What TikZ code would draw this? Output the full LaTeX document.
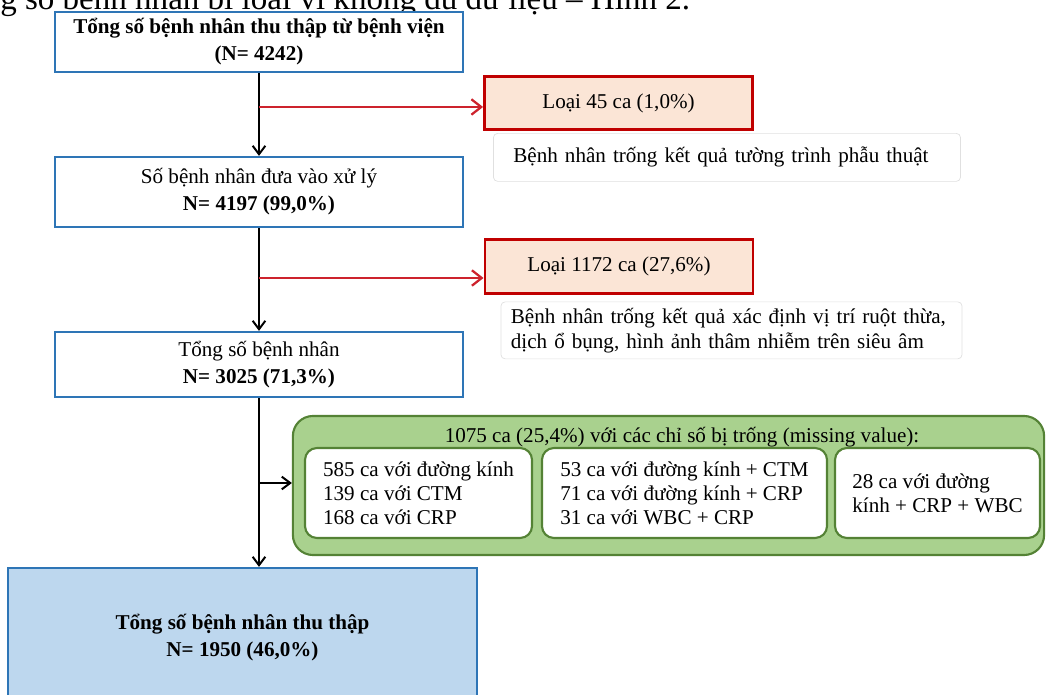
\documentclass[tikz,border=0pt]{standalone}
\usepackage{fontspec}
\setmainfont{Liberation Serif}
\usetikzlibrary{positioning,arrows.meta}
\definecolor{BoxBlue}{RGB}{46,117,182}
\definecolor{FinalBlue}{RGB}{189,215,238}
\definecolor{LossRed}{RGB}{192,0,0}
\definecolor{LossFill}{RGB}{251,229,214}
\definecolor{ArrowRed}{RGB}{205,35,45}
\definecolor{MissGreen}{RGB}{169,209,142}
\definecolor{MissEdge}{RGB}{84,130,53}

\begin{document}
\begin{tikzpicture}[x=0.025cm,y=-0.025cm,
  every node/.style={font=\fontsize{15}{19.2}\selectfont},
  stagebox/.style={draw=BoxBlue,line width=1.6pt,fill=white,align=center,minimum width=10.2cm,inner sep=0pt},
  lossbox/.style={draw=LossRed,line width=2pt,fill=LossFill,minimum width=6.7cm,minimum height=1.33cm,inner sep=0pt},
  notebox/.style={draw=black!12,line width=0.5pt,rounded corners=3pt,fill=white,align=left,inner ysep=0pt,font=\fontsize{15}{17.8}\selectfont},
  subbox/.style={draw=MissEdge,line width=1.5pt,fill=white,rounded corners=0.3cm,align=left,minimum height=2.25cm,inner sep=0pt,font=\fontsize{15}{17}\selectfont},
  flow/.style={line width=1.4pt,-{Straight Barb[length=6pt,width=9pt]}},
  drop/.style={flow,draw=ArrowRed,line width=1.6pt,-{Straight Barb[length=7pt,width=11pt]}}]
\useasboundingbox (0,0) rectangle (1046,695);
\node[anchor=base west,inner sep=0pt,font=\fontsize{23.5}{28}\selectfont] (caption) at (0,10) {g số bệnh nhân bị loại vì không đủ dữ liệu – Hình 2.};
% main flow
\node[stagebox,minimum height=1.5cm,font=\fontsize{15}{19.2}\selectfont\bfseries] (collected) at (259,42) {Tổng số bệnh nhân thu thập từ bệnh viện\\(N= 4242)};
\node[stagebox,minimum height=1.75cm] (processed) at (259,192) {Số bệnh nhân đưa vào xử lý\\\textbf{N= 4197 (99,0\%)}};
\node[stagebox,minimum height=1.625cm] (eligible) at (259,364.5) {Tổng số bệnh nhân\\\textbf{N= 3025 (71,3\%)}};
\node[stagebox,fill=FinalBlue,minimum width=11.725cm,minimum height=3.5cm,font=\fontsize{15}{19.2}\selectfont\bfseries] (final) at (242.5,638) {Tổng số bệnh nhân thu thập\\N= 1950 (46,0\%)};
% excluded cases
\node[lossbox] (loss1) at (618.5,103) {Loại 45 ca (1,0\%)};
\node[lossbox] (loss2) at (619,266.5) {Loại 1172 ca (27,6\%)};
\node[notebox,below=0.05cm of loss1.south west,anchor=north west,xshift=0.25cm,text width=10.675cm,inner xsep=0.5cm,minimum height=1.2cm] (note1) {Bệnh nhân trống kết quả tường trình phẫu thuật};
\node[notebox,below=0.175cm of loss2.south west,anchor=north west,xshift=0.425cm,text width=11.025cm,inner xsep=0.25cm,minimum height=1.425cm] (note2) {Bệnh nhân trống kết quả xác định vị trí ruột thừa,\\dịch ổ bụng, hình ảnh thâm nhiễm trên siêu âm};
% missing values
\node[draw=MissEdge,line width=1.5pt,fill=MissGreen,rounded corners=0.5cm,minimum width=18.775cm,minimum height=3.475cm] (missing) at (668.5,485.5) {};
\node (misstitle) at (682,437) {1075 ca (25,4\%) với các chỉ số bị trống (missing value):};
\node[subbox,minimum width=5.675cm] (miss1) at (418.5,493) {585 ca với đường kính\\139 ca với CTM\\168 ca với CRP};
\node[subbox,minimum width=7.125cm] (miss2) at (684.5,493) {53 ca với đường kính + CTM\\71 ca với đường kính + CRP\\31 ca với WBC + CRP};
\node[subbox,minimum width=5.125cm] (miss3) at (937.5,493) {28 ca với đường\\kính + CRP + WBC};
% connectors
\coordinate (cut1) at (259,107);
\coordinate (cut2) at (259,278);
\coordinate (cut3) at (259,483);
\draw[flow] (collected) -- (processed);
\draw[flow] (processed) -- (eligible);
\draw[flow] (eligible.south) -- (eligible.south |- final.north);
\draw[drop] (cut1) -- (cut1 -| loss1.west);
\draw[drop] (cut2) -- (cut2 -| loss2.west);
\draw[flow] (cut3) -- (cut3 -| missing.west);
\end{tikzpicture}
\end{document}
